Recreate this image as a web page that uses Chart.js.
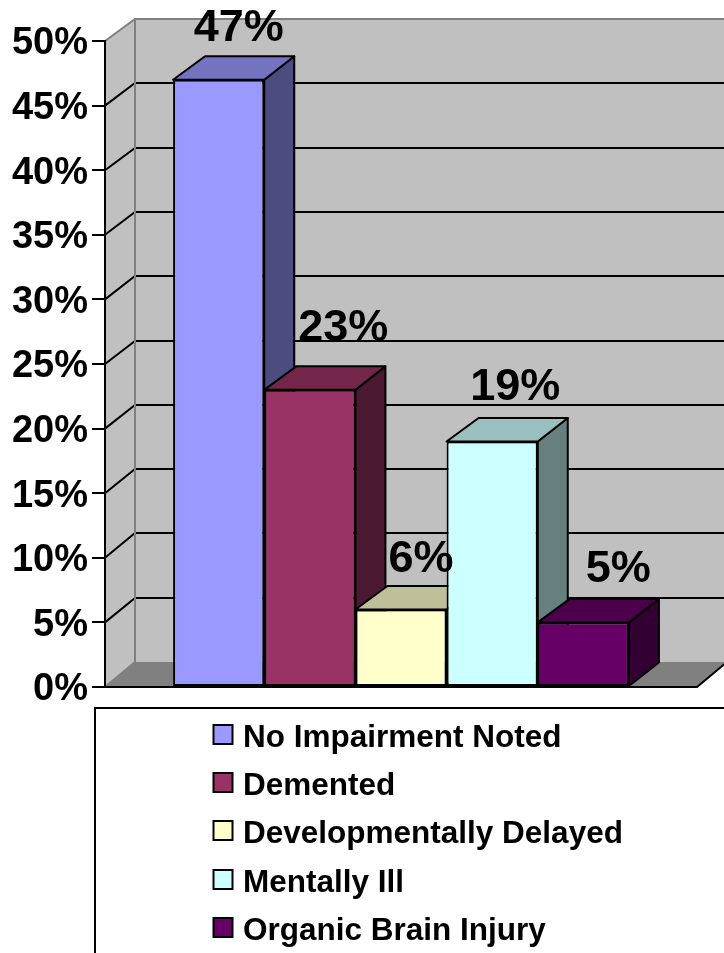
<!DOCTYPE html>
<html><head><meta charset="utf-8">
<style>html,body{margin:0;padding:0;background:#fff;overflow:hidden}canvas{display:block}</style>
<script src="https://cdn.jsdelivr.net/npm/chart.js@4/dist/chart.umd.min.js"></script>
</head><body><canvas id="c" width="724" height="953"></canvas>
<script>
const seriesNames = ["No Impairment Noted","Demented","Developmentally Delayed","Mentally Ill","Organic Brain Injury"];
const seriesValues = [47,23,6,19,5];
const seriesColors = ["#9999FF","#993366","#FFFFCC","#CCFFFF","#660066"];
const topColors = ["#7373BF","#732649","#BFBF99","#99BFBF","#4C004C"];
const sideColors = ["#4C4C80","#4C1933","#808066","#668080","#330033"];
const categories = ["Residents"];
const yTickStep = 5, yMax = 50;

const FONT = '"Liberation Sans", Arial, sans-serif';
const DX = 30, DY = -23.5;
const labelShift = [[20,-15],[33.5,-25],[20,-14],[23,-18],[35,-17]];

function poly(ctx, pts, fill, stroke, lw){
  ctx.beginPath();
  pts.forEach((p,i)=> i?ctx.lineTo(p[0],p[1]):ctx.moveTo(p[0],p[1]));
  ctx.closePath();
  if(fill){ctx.fillStyle=fill;ctx.fill();}
  if(stroke){ctx.strokeStyle=stroke;ctx.lineWidth=lw||2;ctx.stroke();}
}
const walls = {
  id:'walls',
  beforeDraw(chart){
    const {ctx,scales:{y},chartArea:a,width} = chart;
    const top=y.getPixelForValue(yMax), bot=y.getPixelForValue(0), L=a.left, R=a.right;
    const back=p=>Math.round(bot-25+(p-bot)*(643/646));
    ctx.save();
    poly(ctx,[[L,top],[L+DX,back(top)],[L+DX,back(bot)],[L,bot]],'#C0C0C0');
    poly(ctx,[[L+DX,back(top)],[width,back(top)],[width,back(bot)],[L+DX,back(bot)]],'#C0C0C0');
    poly(ctx,[[L,bot],[L+DX,back(bot)],[R+DX,back(bot)],[R,bot]],'#808080');
    ctx.strokeStyle='#000';ctx.lineWidth=2;
    y.ticks.forEach(t=>{
      const p=y.getPixelForValue(t.value);
      if(t.value===0||t.value===yMax) return;
      ctx.beginPath();ctx.moveTo(L,p);ctx.lineTo(L+DX,back(p));ctx.lineTo(width,back(p));ctx.stroke();
    });
    ctx.strokeStyle='#808080';
    ctx.beginPath();ctx.moveTo(L,top);ctx.lineTo(L+DX,back(top));ctx.lineTo(width,back(top));ctx.stroke();
    ctx.beginPath();ctx.moveTo(L+DX,back(top));ctx.lineTo(L+DX,back(bot));ctx.lineTo(L,bot);ctx.stroke();
    ctx.strokeStyle='#000';
    ctx.beginPath();ctx.moveTo(L,bot);ctx.lineTo(R,bot);ctx.lineTo(R+DX,back(bot));ctx.stroke();
    ctx.restore();
  },
  beforeDatasetsDraw(chart){
    const ctx=chart.ctx;
    ctx.save();ctx.lineJoin='round';
    chart.data.datasets.forEach((d,i)=>{
      const b=chart.getDatasetMeta(i).data[0];
      const l=b.x-b.width/2,r=b.x+b.width/2,t=b.y,bo=b.base;
      poly(ctx,[[r,t],[r+DX,t+DY],[r+DX,bo+DY],[r,bo]],sideColors[i],'#000',2);
      poly(ctx,[[l,t],[l+DX+2,t+DY],[r+DX,t+DY],[r,t]],topColors[i],'#000',2);
    });
    ctx.restore();
  },
  afterDatasetsDraw(chart){
    const ctx=chart.ctx;
    ctx.save();
    ctx.fillStyle='#000';ctx.textAlign='center';ctx.textBaseline='alphabetic';
    ctx.font='bold 45px '+FONT;
    chart.data.datasets.forEach((d,i)=>{
      const b=chart.getDatasetMeta(i).data[0];
      ctx.fillText(d.data[0]+'%',b.x+labelShift[i][0],b.y+DY+labelShift[i][1]);
    });
    ctx.strokeStyle='#000';ctx.lineWidth=2;
    ctx.beginPath();ctx.moveTo(95,953);ctx.lineTo(95,708);ctx.lineTo(724,708);ctx.stroke();
    ctx.font='bold 31.5px '+FONT;ctx.textAlign='left';
    chart.data.datasets.forEach((d,i)=>{
      const top=Math.round(725+i*48.2);
      ctx.fillStyle=seriesColors[i];ctx.fillRect(213.5,top,19,19);
      ctx.strokeRect(213.5,top,19,19);
      ctx.fillStyle='#000';
      ctx.fillText(d.label,243,top+22);
    });
    ctx.restore();
  }
};
new Chart(document.getElementById('c'),{
  type:'bar',
  data:{labels:categories,datasets:seriesNames.map((n,i)=>({
    label:n,data:[seriesValues[i]],backgroundColor:seriesColors[i],borderColor:'#000',borderWidth:2,borderSkipped:false
  }))},
  options:{
    responsive:false,animation:false,
    layout:{padding:{left:0,right:27,top:41,bottom:266}},
    plugins:{legend:{display:false},title:{display:false},tooltip:{enabled:false}},
    datasets:{bar:{categoryPercentage:0.77,barPercentage:1}},
    scales:{
      x:{display:false},
      y:{
        min:0,max:yMax,
        afterFit(s){s.width=105;},
        border:{display:true,color:'#000',width:2},
        grid:{drawOnChartArea:false,drawTicks:true,tickLength:13,tickColor:'#000',lineWidth:2},
        ticks:{stepSize:yTickStep,padding:4,labelOffset:3,color:'#000',font:{family:FONT,weight:'bold',size:38},callback:v=>v+'%'}
      }
    }
  },
  plugins:[walls]
});
</script>
</body></html>
